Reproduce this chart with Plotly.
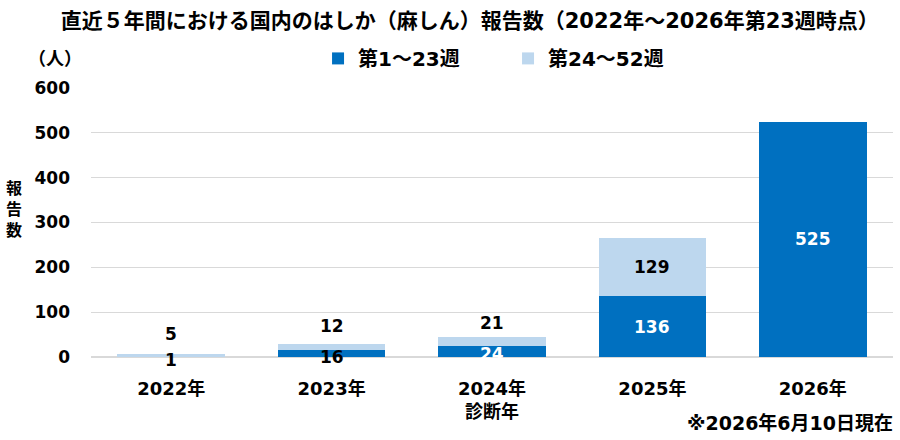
import plotly.graph_objects as go

years = ["2022年", "2023年", "2024年<br>診断年", "2025年", "2026年"]
early = [1, 16, 24, 136, 525]      # 第1～23週
late = [5, 12, 21, 129, None]      # 第24～52週
series_names = ["第1～23週", "第24～52週"]
y_ticks = [0, 100, 200, 300, 400, 500, 600]

DARK = "#0070C0"
LIGHT = "#BDD7EE"
FONT = "DejaVu Sans, Noto Sans CJK JP, sans-serif"

fig = go.Figure()
fig.add_bar(x=years, y=early, name=series_names[0], marker_color=DARK, marker_line_width=0)
fig.add_bar(x=years, y=late, name=series_names[1], marker_color=LIGHT, marker_line_width=0)

# label pixel shifts (style only)
dark_shift = [-3, -4, -2, 0, 0]
dark_color = ["#000000", "#000000", "#FFFFFF", "#FFFFFF", "#FFFFFF"]
late_shift = [21, 21, 19, 0, 0]

ann = []
for i, yr in enumerate(years):
    d = early[i]
    ann.append(dict(x=yr, y=d / 2, text=str(d), showarrow=False, yshift=dark_shift[i],
                    font=dict(size=17, color=dark_color[i], family=FONT, weight="bold")))
    l = late[i]
    if l is not None:
        ann.append(dict(x=yr, y=d + l / 2, text=str(l), showarrow=False, yshift=late_shift[i],
                        font=dict(size=17, color="#000000", family=FONT, weight="bold")))

ann.append(dict(xref="paper", yref="paper", x=-0.096, y=0.55, text="報<br>告<br>数",
                showarrow=False, xanchor="center", yanchor="middle",
                font=dict(size=16, color="#000", family=FONT, weight="bold")))
ann.append(dict(xref="paper", yref="paper", x=-0.045, y=1.11, text="（人）",
                showarrow=False, xanchor="center", yanchor="middle",
                font=dict(size=18, color="#000", family=FONT, weight="bold")))
ann.append(dict(xref="paper", yref="paper", x=1.003, y=-0.245, text="※2026年6月10日現在",
                showarrow=False, xanchor="right", yanchor="middle",
                font=dict(size=19, color="#000", family=FONT, weight="bold")))

fig.update_layout(
    width=900, height=440,
    barmode="stack", bargap=0.33,
    plot_bgcolor="white", paper_bgcolor="white",
    margin=dict(l=91, r=7, t=88, b=83),
    title=dict(text="直近５年間における国内のはしか（麻しん）報告数（2022年～2026年第23週時点）",
               x=0.522, xanchor="center", y=0.953, yanchor="middle",
               font=dict(size=21, color="#000", family=FONT, weight="bold")),
    legend=dict(orientation="h", x=0.52, xanchor="center", y=1.11, yanchor="middle",
                font=dict(size=20, color="#000", family=FONT, weight="bold"),
                entrywidth=145, entrywidthmode="pixels", traceorder="normal"),
    annotations=ann,
    font=dict(family=FONT, color="#000"),
)
fig.update_xaxes(showgrid=False, showline=False, ticks="", ticklabelstandoff=19,
                 tickfont=dict(size=18, color="#000", family=FONT, weight="bold"))
fig.update_yaxes(range=[0, 600], tickvals=y_ticks, showgrid=True, gridcolor="#D9D9D9",
                 zeroline=True, zerolinecolor="#D9D9D9", ticks="", ticklabelstandoff=20,
                 tickfont=dict(size=17, color="#000", family=FONT, weight="bold"))

fig.write_html("out.html")
